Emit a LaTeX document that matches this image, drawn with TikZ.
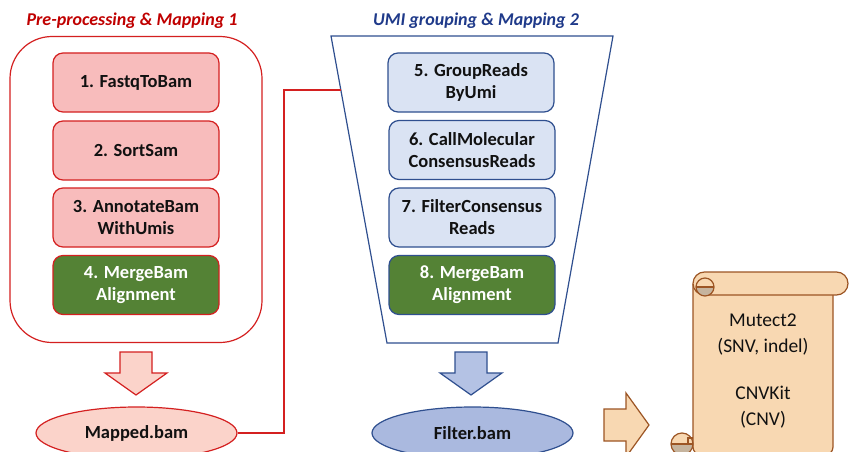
\documentclass[tikz,border=0pt]{standalone}
\usepackage{fontspec}
\setmainfont{Carlito}
\usetikzlibrary{shapes.geometric}
\definecolor{redB}{HTML}{D42020}
\definecolor{redT}{HTML}{C00000}
\definecolor{pinkF}{HTML}{F8BCBC}
\definecolor{greenF}{HTML}{548235}
\definecolor{blueB}{HTML}{2F4F8F}
\definecolor{blueT}{HTML}{1F3A8A}
\definecolor{blueF}{HTML}{DAE3F3}
\definecolor{blueE}{HTML}{AAB9DF}
\definecolor{blueA}{HTML}{B4C2E4}
\definecolor{salmonF}{HTML}{FBD3CA}
\definecolor{scrollF}{HTML}{F8D8B2}
\definecolor{scrollB}{HTML}{9C5524}
\definecolor{curlF}{HTML}{C6B49E}
\definecolor{txt}{HTML}{111111}
\begin{document}
\begin{tikzpicture}[x=1pt,y=-1pt,
  stepR/.style={draw=redB, fill=pinkF, line width=1.2pt, rounded corners=10pt,
    minimum width=166pt, minimum height=59pt, align=center, inner sep=0pt,
    font=\bfseries\fontsize{18.5}{22}\selectfont, text=txt},
  stepG/.style={stepR, fill=greenF, text=white},
  stepB/.style={stepR, draw=blueB, fill=blueF},
  stepBG/.style={stepB, fill=greenF, text=white},
  ttl/.style={font=\bfseries\itshape\fontsize{18}{22}\selectfont},
  fileE/.style={ellipse, minimum width=201pt, minimum height=52pt, inner sep=0pt,
    line width=1.2pt, font=\bfseries\fontsize{18.5}{22}\selectfont, text=txt},
  conn/.style={draw=redB, line width=1.2pt}
]
\useasboundingbox (0,0) rectangle (849,452);
\fill[white] (0,0) rectangle (849,452);

% titles
\node[ttl, text=redT] (t1) at (132,21) {Pre-processing \& Mapping 1};
\node[ttl, text=blueT] (t2) at (476,21) {UMI grouping \& Mapping 2};

% left frame
\node[draw=redB, line width=1.2pt, rounded corners=42pt, minimum width=252pt,
  minimum height=306pt, inner sep=0pt] (frame1) at (136,189.5) {};

% funnel
\draw[blueB, line width=1.2pt, fill=white] (331,36) -- (613,36) -- (558,343) -- (387,343) -- cycle;
\coordinate (fl) at (340.8,90);
\coordinate (bend) at (284,90);

% steps
\node[stepR] (s1) at (136,82.5) {1. FastqToBam};
\node[stepR] (s2) at (136,150.5) {2. SortSam};
\node[stepR] (s3) at (136,217.5) {3. AnnotateBam\\WithUmis};
\node[stepG] (s4) at (136,285) {4. MergeBam\\Alignment};

\node[stepB] (s5) at (471,82.5) {5. GroupReads\\ByUmi};
\node[stepB] (s6) at (472,150) {6. CallMolecular\\ConsensusReads};
\node[stepB] (s7) at (472,217.5) {7. FilterConsensus\\Reads};
\node[stepBG] (s8) at (472,285) {8. MergeBam\\Alignment};

% block arrows
\draw[redB, line width=1.2pt, fill=salmonF, line join=miter]
  (120,352) -- (152,352) -- (152,373) -- (167,373) -- (136,395) -- (105,373) -- (120,373) -- cycle;
\draw[blueB, line width=1.2pt, fill=blueA, line join=miter]
  (455,352) -- (487,352) -- (487,373) -- (502,373) -- (471,395) -- (440,373) -- (455,373) -- cycle;
\draw[scrollB, line width=1.2pt, fill=scrollF, line join=miter]
  (604,409) -- (626,409) -- (626,393) -- (649,425) -- (626,457) -- (626,441) -- (604,441) -- cycle;

% files
\node[fileE, draw=redB, fill=salmonF] (mapped) at (136.5,433) {Mapped.bam};
\node[fileE, draw=blueB, fill=blueE] (filter) at (472.5,433) {Filter.bam};

% connector
\draw[conn] (mapped.east) -- (mapped.east -| bend) -- (bend) -- (fl);

% scroll
\begin{scope}[scrollB, line width=1.2pt]
  \draw[fill=scrollF, rounded corners=8pt] (693,284) -- (693,455) -- (833,455) -- (833,284);
  \draw[fill=scrollF, rounded corners=11.5pt] (693,272) rectangle (848,295);
  % top-left curl
  \fill[curlF] (696,287) arc[start angle=180, end angle=0, radius=9] -- cycle;
  \draw (705,287) circle (9);
  \draw (696,287) -- (714,287);
  % bottom-left curl
  \fill[scrollF] (671,444) arc[start angle=180, end angle=360, radius=11] -- cycle;
  \fill[curlF] (671,444) arc[start angle=180, end angle=0, radius=11] -- cycle;
  \draw (682,444) circle (11);
  \draw (671,444) -- (693,444);
  \draw (688,444) -- (688,438) -- (693,438);
\end{scope}
\node[align=center, font=\fontsize{19.5}{26}\selectfont, text=txt] (tools) at (763,371.5)
  {Mutect2\\(SNV, indel)\\[21pt]CNVKit\\(CNV)};
\end{tikzpicture}
\end{document}
